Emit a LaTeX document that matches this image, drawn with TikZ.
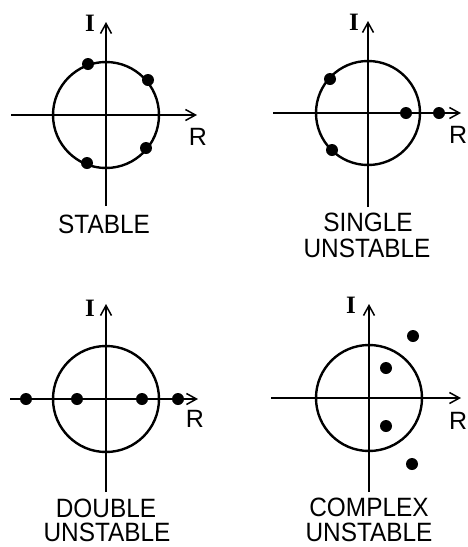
\documentclass[tikz,border=0pt]{standalone}
\usepackage{fontspec}
\setmainfont{Liberation Sans}
\newfontfamily\serifI{Liberation Serif}
\usetikzlibrary{arrows.meta}
\begin{document}
\begin{tikzpicture}[x=1pt,y=-1pt,
  axis/.style={line width=1.6pt,-{Straight Barb[length=10pt,width=11pt,line width=1.5pt]}},
  ucirc/.style={line width=2.4pt},
  pole/.style={fill=black,circle,inner sep=0pt,minimum size=12pt},
  ilab/.style={font=\fontsize{25}{25}\selectfont\serifI\bfseries},
  rlab/.style={font=\fontsize{25}{25}\selectfont},
  lab/.style={font=\fontsize{26.5}{25}\selectfont, anchor=base, inner sep=0pt, xscale=0.92, transform shape}]
\useasboundingbox (0,0) rectangle (467,547);
% panel 1
\coordinate (c1) at (106,115);
\coordinate (h1a) at (11,115); \coordinate (h1b) at (197,115);
\coordinate (v1a) at (106,206); \coordinate (v1b) at (106,22);
\draw[ucirc] (c1) circle[radius=53pt];
\draw[axis] (h1a) -- (h1b);
\draw[axis] (v1a) -- (v1b);
\node[ilab] (i1) at (90,23) {I};
\node[rlab] (r1) at (198,137) {R};
\node[lab] (t1) at (104,233) {STABLE};
\node[pole] (p11) at (88,64) {};
\node[pole] (p12) at (148,80) {};
\node[pole] (p13) at (146,148) {};
\node[pole] (p14) at (87,163) {};
% panel 2
\coordinate (c2) at (368,113);
\coordinate (h2a) at (273,113); \coordinate (h2b) at (461,113);
\coordinate (v2a) at (368,207); \coordinate (v2b) at (368,21);
\draw[ucirc] (c2) circle[radius=52pt];
\draw[axis] (h2a) -- (h2b);
\draw[axis] (v2a) -- (v2b);
\node[ilab] (i2) at (354,22) {I};
\node[rlab,anchor=west,inner sep=0pt] (r2) at (449,135) {R};
\node[lab] (t2a) at (368,231) {SINGLE};
\node[lab] (t2b) at (367,257) {UNSTABLE};
\node[pole] (p21) at (330,79) {};
\node[pole] (p22) at (332,150) {};
\node[pole] (p23) at (406,113) {};
\node[pole] (p24) at (439,113) {};
% panel 3
\coordinate (c3) at (106,399);
\coordinate (h3a) at (10,399); \coordinate (h3b) at (198,399);
\coordinate (v3a) at (106,492); \coordinate (v3b) at (106,304);
\draw[ucirc] (c3) circle[radius=53pt];
\draw[axis] (h3a) -- (h3b);
\draw[axis] (v3a) -- (v3b);
\node[ilab] (i3) at (90,308) {I};
\node[rlab] (r3) at (195,419) {R};
\node[lab] (t3a) at (106,517) {DOUBLE};
\node[lab] (t3b) at (107,541) {UNSTABLE};
\node[pole] (p31) at (26,399) {};
\node[pole] (p32) at (77,399) {};
\node[pole] (p33) at (142,399) {};
\node[pole] (p34) at (178,399) {};
% panel 4
\coordinate (c4) at (369,398);
\coordinate (h4a) at (271,398); \coordinate (h4b) at (461,398);
\coordinate (v4a) at (369,492); \coordinate (v4b) at (369,304);
\draw[ucirc] (c4) circle[radius=53pt];
\draw[axis] (h4a) -- (h4b);
\draw[axis] (v4a) -- (v4b);
\node[ilab] (i4) at (351,305) {I};
\node[rlab,anchor=west,inner sep=0pt] (r4) at (449,421) {R};
\node[lab] (t4a) at (369,516) {COMPLEX};
\node[lab] (t4b) at (369,541) {UNSTABLE};
\node[pole] (p41) at (413,336) {};
\node[pole] (p42) at (386,368) {};
\node[pole] (p43) at (386,426) {};
\node[pole] (p44) at (412,464) {};
\end{tikzpicture}
\end{document}
